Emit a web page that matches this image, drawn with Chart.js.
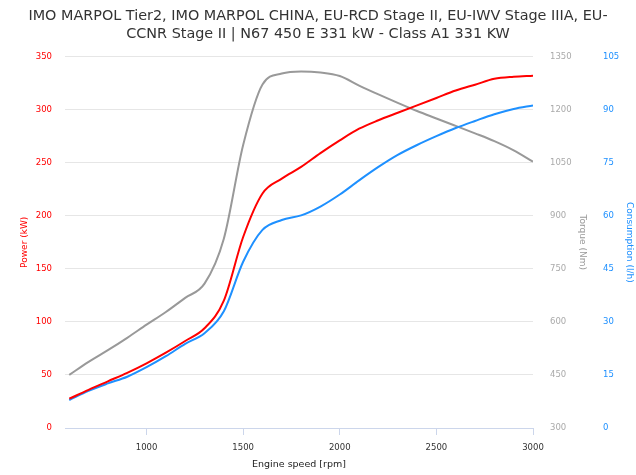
<!DOCTYPE html>
<html>
<head>
<meta charset="utf-8">
<script src="https://cdn.jsdelivr.net/npm/chart.js@4/dist/chart.umd.min.js"></script>
<style>
  body { margin: 0; background: #fff; }
  #wrap { width: 636px; height: 475px; }
</style>
</head>
<body>
<div id="wrap"><canvas id="chart" width="636" height="475"></canvas></div>
<script>
// Valeurs
const titleLines = [
    'IMO MARPOL Tier2, IMO MARPOL CHINA, EU-RCD Stage II, EU-IWV Stage IIIA, EU-',
    'CCNR Stage II | N67 450 E 331 kW - Class A1 331 KW'
];
const rpm = [600, 700, 800, 900, 1000, 1100, 1200, 1300, 1400, 1500, 1600, 1700, 1800,
             1900, 2000, 2100, 2200, 2300, 2400, 2500, 2600, 2700, 2800, 2900, 3000];
const powerKw = [27.6, 36, 44, 52, 61, 71, 82, 94, 120, 180, 221, 235, 246,
                 259, 271, 282, 290, 297, 304, 311, 318, 323.5, 329, 331, 332];
const torqueNm = [450, 487, 520, 555, 592, 628, 668, 708, 835, 1100, 1271, 1302, 1308,
                  1305, 1295, 1268, 1243, 1219, 1196, 1175, 1154, 1133, 1111, 1085, 1053];
const consumptionLh = [7.9, 10.5, 12.6, 14.5, 17.2, 20.3, 23.8, 26.8, 33, 47, 56, 58.8, 60.1,
                       62.6, 66, 70, 73.8, 77.2, 80, 82.5, 84.8, 86.8, 88.7, 90.2, 91.2];
const xTicks = [1000, 1500, 2000, 2500, 3000];
const powerTicks = [0, 50, 100, 150, 200, 250, 300, 350];
const torqueTicks = [300, 450, 600, 750, 900, 1050, 1200, 1350];
const consTicks = [0, 15, 30, 45, 60, 75, 90, 105];

const FONT = 'DejaVu Sans';
const RED = '#ff0000';
const GREY = '#999999';
const BLUE = '#1e90ff';

function pts(values) {
    return rpm.map((r, i) => ({ x: r, y: values[i] }));
}

function fixTicks(list) {
    return s => { s.ticks = list.map(v => ({ value: v })); };
}

// pas de séparateur de milliers
const plain = v => String(v);

function lineSet(label, values, color, axis) {
    return {
        label: label,
        data: pts(values),
        borderColor: color,
        backgroundColor: color,
        borderWidth: 2,
        pointRadius: 0,
        cubicInterpolationMode: 'monotone',
        yAxisID: axis
    };
}

new Chart(document.getElementById('chart'), {
    type: 'line',
    data: {
        datasets: [
            lineSet('Power', powerKw, RED, 'yPower'),
            lineSet('Consumption', consumptionLh, BLUE, 'yCons'),
            lineSet('Torque', torqueNm, GREY, 'yTorque')
        ]
    },
    options: {
        responsive: false,
        animation: false,
        layout: { padding: 0 },
        plugins: {
            legend: { display: false },
            tooltip: { enabled: false },
            title: {
                display: true,
                text: titleLines,
                color: '#333',
                font: { family: FONT, size: 14.4, weight: 'normal', lineHeight: 1.2 },
                padding: { top: 8, bottom: 14 }
            }
        },
        scales: {
            x: {
                type: 'linear',
                min: 578,
                max: 3000,
                afterBuildTicks: fixTicks(xTicks),
                afterFit: s => { s.height = 47; },
                grid: { drawOnChartArea: false, drawTicks: true, tickLength: 7, color: '#ccd6eb' },
                border: { color: '#ccd6eb' },
                ticks: { color: '#333', padding: 8, callback: plain, font: { family: FONT, size: 8.5 } },
                title: {
                    display: true,
                    text: 'Engine speed [rpm]',
                    color: '#222',
                    font: { family: FONT, size: 9.5 },
                    padding: { top: 0, bottom: 5 }
                }
            },
            yPower: {
                position: 'left',
                min: 0,
                max: 350,
                afterBuildTicks: fixTicks(powerTicks),
                afterFit: s => { s.width = 65; },
                grid: { color: '#e6e6e6', drawTicks: false },
                border: { display: false },
                ticks: { color: RED, padding: 13, callback: plain, font: { family: FONT, size: 8.5 } },
                title: {
                    display: true,
                    text: 'Power (kW)',
                    color: RED,
                    font: { family: FONT, size: 9 },
                    padding: { top: 19 }
                }
            },
            yTorque: {
                position: 'right',
                min: 300,
                max: 1350,
                afterBuildTicks: fixTicks(torqueTicks),
                afterFit: s => { s.width = 57; },
                grid: { display: false, drawTicks: false },
                border: { display: false },
                ticks: { color: '#aaa', padding: 17, callback: plain, font: { family: FONT, size: 8.5 } },
                title: {
                    display: true,
                    text: 'Torque (Nm)',
                    color: GREY,
                    font: { family: FONT, size: 9 },
                    padding: { top: 2 }
                }
            },
            yCons: {
                position: 'right',
                min: 0,
                max: 105,
                afterBuildTicks: fixTicks(consTicks),
                afterFit: s => { s.width = 46; },
                grid: { display: false, drawTicks: false },
                border: { display: false },
                ticks: { color: BLUE, padding: 13, callback: plain, font: { family: FONT, size: 8.5 } },
                title: {
                    display: true,
                    text: 'Consumption (l/h)',
                    color: BLUE,
                    font: { family: FONT, size: 9 },
                    padding: { top: 1 }
                }
            }
        }
    }
});
</script>
</body>
</html>
